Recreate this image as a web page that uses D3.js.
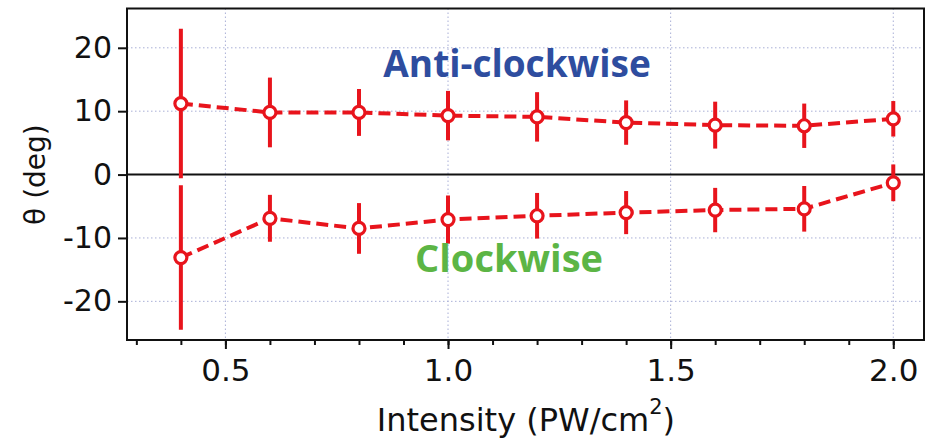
<!DOCTYPE html>
<html>
<head>
<meta charset="utf-8">
<script src="https://cdn.jsdelivr.net/npm/d3@7"></script>
<style>
  body { margin: 0; background: #fff; }
  svg { display: block; }
</style>
</head>
<body>
<script>
// intensity values (PW/cm^2)
var intensity = [0.4, 0.6, 0.8, 1.0, 1.2, 1.4, 1.6, 1.8, 2.0];

// anti-clockwise angle and its error
var antiTheta = [11.2, 9.8, 9.8, 9.3, 9.1, 8.2, 7.8, 7.7, 8.8];
var antiErr   = [11.8, 5.5, 3.7, 3.9, 3.9, 3.5, 3.7, 3.5, 2.8];

// clockwise angle and its error
var cwTheta = [-13.1, -6.9, -8.5, -7.1, -6.5, -6.0, -5.6, -5.4, -1.3];
var cwErr   = [11.4, 3.7, 4.0, 3.8, 3.6, 3.4, 3.5, 3.6, 2.9];

var xTicks = [0.5, 1.0, 1.5, 2.0];
var yTicks = [-20, -10, 0, 10, 20];

var W = 926, H = 442;
var margin = { top: 8.5, right: 2, bottom: 102, left: 127 };
var width = W - margin.left - margin.right,
    height = H - margin.top - margin.bottom;

var red = "#e8141c";

var svg = d3.select("body").append("svg")
    .attr("width", W)
    .attr("height", H);

var g = svg.append("g")
    .attr("transform", "translate(" + margin.left + "," + margin.top + ")");

var x = d3.scaleLinear().domain([0.279, 2.069]).range([0, width]);
var y = d3.scaleLinear().domain([-26.1, 26.2]).range([height, 0]);

// grid lines (dotted)
g.append("g").selectAll("line")
    .data(xTicks)
    .enter().append("line")
    .attr("x1", function(d) { return x(d); })
    .attr("x2", function(d) { return x(d); })
    .attr("y1", 0)
    .attr("y2", height)
    .attr("stroke", "#a9afd6")
    .attr("stroke-width", 1)
    .attr("stroke-dasharray", "1.5,2.5");

g.append("g").selectAll("line")
    .data(yTicks.filter(function(d) { return d != 0; }))
    .enter().append("line")
    .attr("x1", 0)
    .attr("x2", width)
    .attr("y1", function(d) { return y(d); })
    .attr("y2", function(d) { return y(d); })
    .attr("stroke", "#a9afd6")
    .attr("stroke-width", 1)
    .attr("stroke-dasharray", "1.5,2.5");

// zero line
g.append("line")
    .attr("x1", 0).attr("x2", width)
    .attr("y1", y(0)).attr("y2", y(0))
    .attr("stroke", "#111")
    .attr("stroke-width", 2);

// axes
var minorTicks = d3.range(3, 21).map(function(d) { return d / 10; });

var xAxisMinor = d3.axisBottom(x)
    .tickValues(minorTicks)
    .tickSize(5)
    .tickFormat("");
var xAxis = d3.axisBottom(x)
    .tickValues(xTicks)
    .tickSize(9)
    .tickPadding(10)
    .tickFormat(d3.format(".1f"));
var yAxis = d3.axisLeft(y)
    .tickValues(yTicks)
    .tickSize(9)
    .tickPadding(6)
    .tickFormat(function(d) { return String(d); }); // plain hyphen minus

g.append("g")
    .attr("transform", "translate(0," + height + ")")
    .call(xAxisMinor)
    .call(function(s) { s.select(".domain").remove(); })
    .selectAll("line").attr("stroke", "#111").attr("stroke-width", 2);

var gx = g.append("g")
    .attr("transform", "translate(0," + height + ")")
    .call(xAxis);
gx.select(".domain").remove();
gx.selectAll("line").attr("stroke", "#111").attr("stroke-width", 2);
gx.selectAll("text")
    .attr("font-family", "DejaVu Sans")
    .attr("font-size", 31)
    .attr("fill", "#111");

var gy = g.append("g").call(yAxis);
gy.select(".domain").remove();
gy.selectAll("line").attr("stroke", "#111").attr("stroke-width", 2);
gy.selectAll("text")
    .attr("font-family", "DejaVu Sans")
    .attr("font-size", 30)
    .attr("fill", "#111");

// frame
g.append("rect")
    .attr("x", 0).attr("y", 0)
    .attr("width", width).attr("height", height)
    .attr("fill", "none")
    .attr("stroke", "#111")
    .attr("stroke-width", 2);

// series
function drawSeries(vals, errs) {
    var pts = intensity.map(function(d, i) {
        return { x: d, y: vals[i], e: errs[i] };
    });

    g.append("g").selectAll("line")
        .data(pts)
        .enter().append("line")
        .attr("x1", function(d) { return x(d.x); })
        .attr("x2", function(d) { return x(d.x); })
        .attr("y1", function(d) { return y(d.y + d.e); })
        .attr("y2", function(d) { return y(d.y - d.e); })
        .attr("stroke", red)
        .attr("stroke-width", 4);

    var line = d3.line()
        .x(function(d) { return x(d.x); })
        .y(function(d) { return y(d.y); });

    g.append("path")
        .datum(pts)
        .attr("d", line)
        .attr("fill", "none")
        .attr("stroke", red)
        .attr("stroke-width", 4)
        .attr("stroke-dasharray", "12,6");

    g.append("g").selectAll("circle")
        .data(pts)
        .enter().append("circle")
        .attr("cx", function(d) { return x(d.x); })
        .attr("cy", function(d) { return y(d.y); })
        .attr("r", 6)
        .attr("fill", "#fff")
        .attr("stroke", red)
        .attr("stroke-width", 3.2);
}

drawSeries(antiTheta, antiErr);
drawSeries(cwTheta, cwErr);

// annotations
g.append("text")
    .attr("x", x(1.155))
    .attr("y", y(15.4))
    .attr("text-anchor", "middle")
    .attr("font-family", "Open Sans")
    .attr("font-weight", "bold")
    .attr("font-size", 37)
    .attr("fill", "#2e4d9f")
    .text("Anti-clockwise");

g.append("text")
    .attr("x", x(1.137))
    .attr("y", y(-15.3))
    .attr("text-anchor", "middle")
    .attr("font-family", "Open Sans")
    .attr("font-weight", "bold")
    .attr("font-size", 38)
    .attr("fill", "#5cb545")
    .text("Clockwise");

// axis titles
var xt = svg.append("text")
    .attr("x", margin.left + x(1.175))
    .attr("y", 431)
    .attr("text-anchor", "middle")
    .attr("font-family", "DejaVu Sans")
    .attr("font-size", 32)
    .attr("fill", "#111");
xt.append("tspan").text("Intensity (PW/cm");
xt.append("tspan").attr("dy", -17).attr("font-size", 21).text("2");
xt.append("tspan").attr("dy", 17).text(")");

svg.append("text")
    .attr("transform", "translate(45," + (margin.top + y(0)) + ") rotate(-90)")
    .attr("text-anchor", "middle")
    .attr("font-family", "DejaVu Sans")
    .attr("font-size", 28)
    .attr("fill", "#111")
    .text("θ (deg)");
</script>
</body>
</html>
